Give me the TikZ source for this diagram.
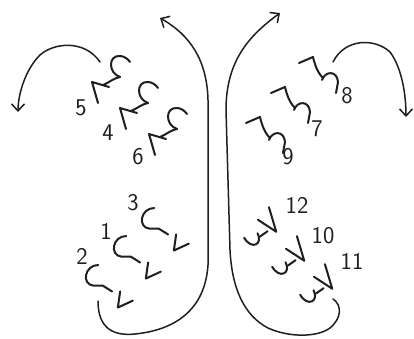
\documentclass[tikz,border=0pt]{standalone}
\usetikzlibrary{arrows.meta}
\begin{document}
\begin{tikzpicture}[x=1pt,y=-1pt, line cap=round, line join=round,
  ink/.style={draw=black!88, line width=2pt},
  pen/.style={draw=black!88, line width=1.5pt},
  barb/.style={-{Straight Barb[length=7pt,width=13pt,line width=1.5pt]}},
  num/.style={font=\sffamily\fontsize{24}{24}\selectfont, text=black!88, inner sep=0pt},
  glyphA/.pic={
    \draw[ink] (6,21) -- (0,0) -- (17,5);
    \draw[ink] (11,3) .. controls (18,0) and (22,-4) .. (28,-5);
    \draw[ink] (28,-5) .. controls (16,-9) and (16,-27) .. (28,-26) .. controls (32,-26) and (36,-23) .. (38,-20);
  },
  glyphB/.pic={
    \draw[ink] (-1,1) -- (13,-5) .. controls (15,3) and (17,10) .. (23,16);
    \draw[ink] (22,18) .. controls (25,9) and (37,8) .. (38,20) -- (36,31);
  },
  glyphC/.pic={
    \draw[ink] (2,0) .. controls (-10,0) and (-13,17) .. (-2,18) -- (6,18) -- (14,23);
    \draw[ink] (21,23) -- (19,37) -- (32,31);
  },
  glyphD/.pic={
    \draw[ink] (-1,-10) .. controls (-2,1) and (8,2) .. (9,-7);
    \draw[ink] (9,-4) -- (16,-4);
    \draw[ink] (15,-15) -- (21,0) -- (27,-18);
  }]
\useasboundingbox (0,0) rectangle (414,339);
\fill[white] (0,0) rectangle (414,339);

% big arrows
\draw[pen, barb] (98,301) .. controls (98,330) and (115,336) .. (135,334) .. controls (175,330) and (205,310) .. (208,265) -- (208,100) .. controls (207,60) and (190,35) .. (160,18);
\draw[pen, barb] (333,299) .. controls (342,305) and (342,318) .. (330,328) .. controls (318,337) and (290,338) .. (268,328) .. controls (245,316) and (232,290) .. (230,250) -- (226,110) .. controls (226,60) and (250,35) .. (280,13);
% small arrows
\draw[pen, barb] (100,62) .. controls (85,40) and (55,42) .. (40,55) .. controls (25,70) and (18,95) .. (18,112);
\draw[pen, barb] (333,62) .. controls (345,38) and (375,38) .. (390,52) .. controls (402,68) and (406,95) .. (406,117);

% upper left
\pic at (92,82) {glyphA};
\pic at (120,108) {glyphA};
\pic at (149,134) {glyphA};
\node[num] (n5) at (81,108) {5};
\node[num] (n4) at (108,133) {4};
\node[num] (n6) at (138,157) {6};

% upper right
\pic at (300,62) {glyphB};
\pic at (272,92) {glyphB};
\pic at (247,122) {glyphB};
\node[num] (n8) at (347,96) {8};
\node[num] (n7) at (317,129) {7};
\node[num] (n9) at (288,157) {9};

% lower left
\pic[scale=1.15] at (152,208) {glyphC};
\pic[scale=1.15] at (124,236) {glyphC};
\pic[scale=1.15] at (96,265) {glyphC};
\node[num] (n3) at (133,203) {3};
\node[num] (n1) at (106,231) {1};
\node[num] (n2) at (82,256) {2};

% lower right
\pic[rotate=35, scale=1.35] at (253,248) {glyphD};
\pic[rotate=35, scale=1.35] at (281,277) {glyphD};
\pic[rotate=35, scale=1.35] at (309,305) {glyphD};
\node[num] (n12) at (297,205) {12};
\node[num] (n10) at (323,236) {10};
\node[num] (n11) at (352,261) {11};
\end{tikzpicture}
\end{document}
